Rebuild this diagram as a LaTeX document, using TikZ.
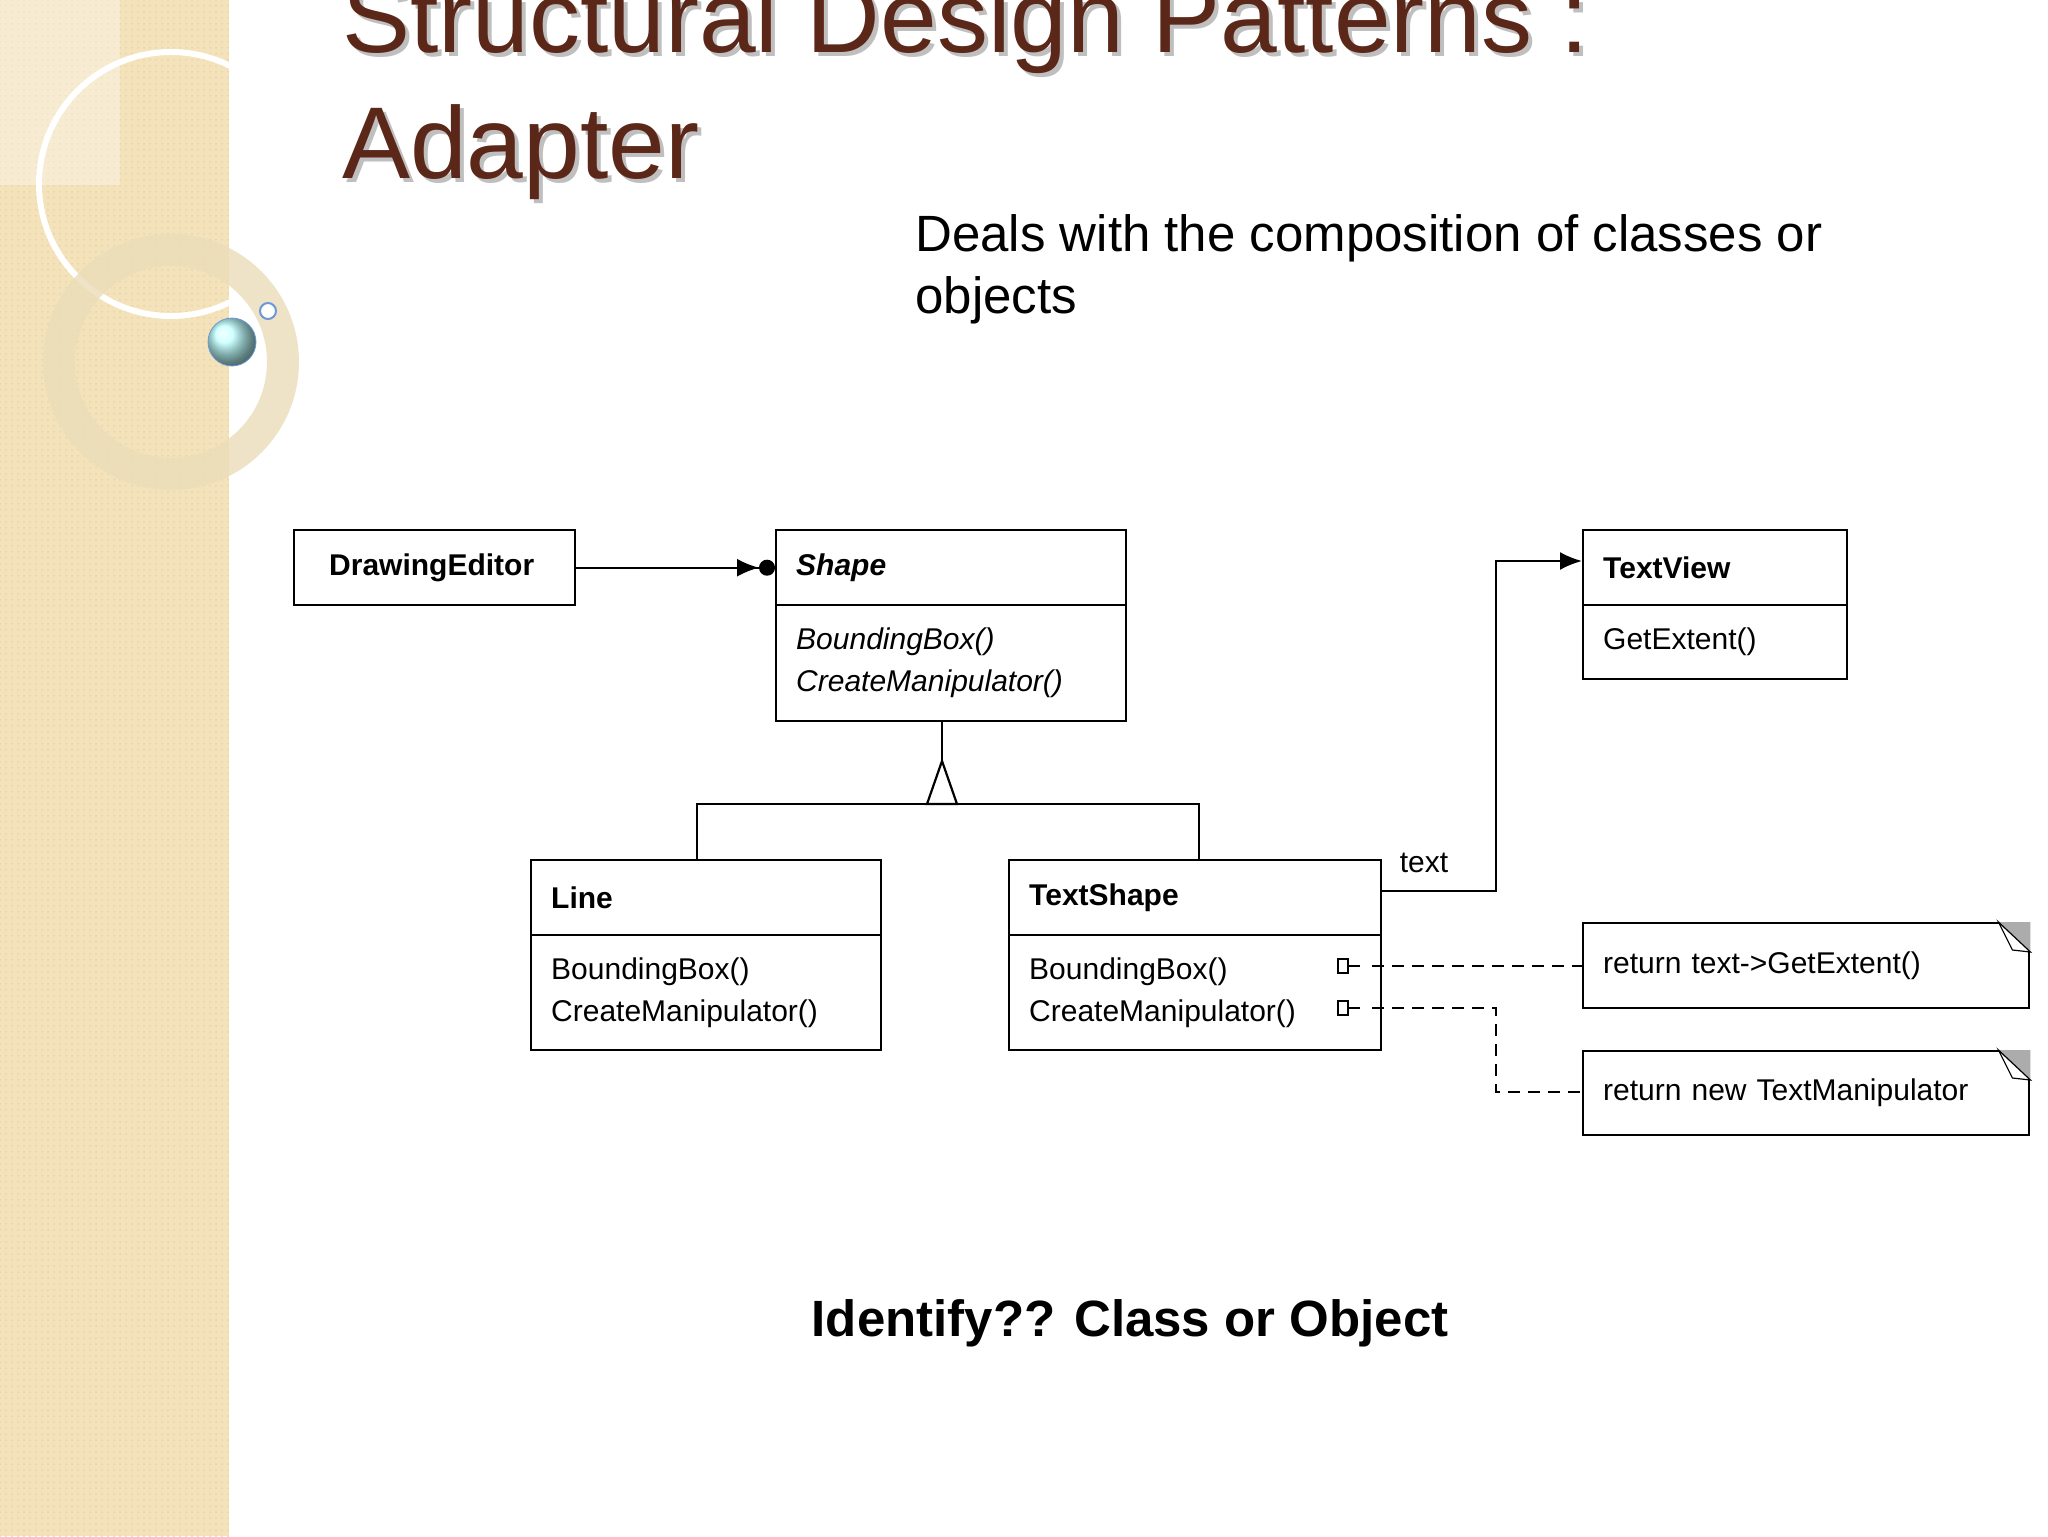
\documentclass[tikz,border=0pt]{standalone}
\usepackage{fontspec}
\setmainfont{Liberation Sans}
\usetikzlibrary{arrows.meta,patterns}
\definecolor{side}{HTML}{F4E3BA}
\definecolor{titlec}{HTML}{5A2718}
\definecolor{ringc}{HTML}{E6D4A8}
\begin{document}
\begin{tikzpicture}[x=0.5pt,y=-0.5pt,
  cls/.style={draw,line width=1.2pt,anchor=north west,inner xsep=10pt,inner ysep=0pt,align=left,font=\fontsize{15}{19}\selectfont},
  ln/.style={line width=1.1pt},
  dsh/.style={line width=1.1pt,dash pattern=on 6pt off 4pt}]
\useasboundingbox (0,0) rectangle (2048,1536);
\fill[white] (0,0) rectangle (2048,1536);
% sidebar
\fill[side] (0,0) rectangle (229,1536);
\fill[pattern=dots,pattern color=ringc] (0,0) rectangle (229,1536);
\fill[white,opacity=0.35] (0,0) rectangle (120,185);
\begin{scope}
\clip (0,0) rectangle (300,700);
\draw[white,line width=3pt] (171,184) circle (132);
\draw[ringc!80!white,line width=16pt,opacity=0.8] (171,362) circle (112);
\end{scope}
\shade[ball color=cyan!25!white,draw=cyan!50!blue!60] (232,342) circle (24);
\draw[cyan!50!blue!60,line width=1pt,fill=white] (268,311) circle (8);
% title
\node[anchor=base west,font=\fontsize{51}{56}\selectfont,text=gray!50] (t1s) at (339,57) {Structural Design Patterns :};
\node[anchor=base west,font=\fontsize{51}{56}\selectfont,text=titlec] (t1) at (335,53) {Structural Design Patterns :};
\node[anchor=base west,font=\fontsize{51}{56}\selectfont,text=gray!50] (t2s) at (339,182) {Adapter};
\node[anchor=base west,font=\fontsize{51}{56}\selectfont,text=titlec] (t2) at (335,178) {Adapter};
\node[anchor=base west,font=\fontsize{25.5}{31}\selectfont,align=left,inner sep=0pt] (sub) at (915,313) {Deals with the composition of classes or\\objects};
% classes
\node[cls,inner xsep=17.5pt,text width=105.5pt,minimum height=37.5pt,font=\fontsize{15}{19}\selectfont\bfseries] (de) at (293,529) {DrawingEditor};
\node[cls,text width=155pt,minimum height=37.5pt,font=\fontsize{15}{19}\selectfont\bfseries\itshape] (shh) at (775,529) {Shape};
\node[cls,text width=155pt,minimum height=58pt,font=\fontsize{15}{21}\selectfont\itshape] (shb) at (775,604) {BoundingBox()\\CreateManipulator()};
\node[cls,text width=112pt,minimum height=37.5pt,font=\fontsize{15}{19}\selectfont\bfseries] (tvh) at (1582,529) {TextView};
\node[cls,text width=112pt,minimum height=37pt] (tvb) at (1582,604) {GetExtent()};
\node[cls,text width=155pt,minimum height=37.5pt,font=\fontsize{15}{19}\selectfont\bfseries] (lnh) at (530,859) {Line};
\node[cls,text width=155pt,minimum height=57.5pt,font=\fontsize{15}{21}\selectfont] (lnb) at (530,934) {BoundingBox()\\CreateManipulator()};
\node[cls,text width=166pt,minimum height=37.5pt,font=\fontsize{15}{19}\selectfont\bfseries] (tsh) at (1008,859) {TextShape};
\node[cls,text width=166pt,minimum height=57.5pt,font=\fontsize{15}{21}\selectfont] (tsb) at (1008,934) {BoundingBox()\\CreateManipulator()};
% notes
\node[cls,text width=203pt,minimum height=42.5pt] (n1) at (1582,922) {return text->GetExtent()};
\node[cls,text width=203pt,minimum height=42pt] (n2) at (1582,1050) {return new TextManipulator};
\foreach \n in {n1,n2}{
  \fill[gray!65] ([xshift=-16pt]\n.north east) -- (\n.north east) -- ([yshift=-15pt]\n.north east) -- cycle;
  \draw[line width=0.6pt,fill=white] ([xshift=-16pt]\n.north east) -- ([xshift=-9pt,yshift=-14pt]\n.north east) -- ([yshift=-15pt]\n.north east) -- cycle;
}
% connectors
\draw[ln,-{Latex[length=11pt,width=9pt]Circle[length=8pt]}] (de.east) -- (shh.west);
\coordinate (apex) at (942,761);
\draw[ln] (shb.south -| apex) -- (apex);
\draw[ln] (apex) -- (927,804) -- (957,804) -- cycle;
\draw[ln] (lnh.north -| 697,0) -- (697,804) -- (1199,804) -- (tsh.north -| 1199,0);
\coordinate (k1) at (1496,891);
\coordinate (k2) at (1496,561);
\draw[ln,-{Latex[length=11pt,width=9pt]}] (tsh.east |- k1) -- (k1) -- (k2) -- (tvh.west |- k2);
\node[anchor=base,font=\fontsize{15}{19}\selectfont] (lbl) at (1424,872) {text};
\coordinate (c1) at (1344,966);
\coordinate (c2) at (1344,1008);
\draw[line width=1pt] (c1) ++(-6,-7) rectangle ++(10,14);
\draw[line width=1pt] (c2) ++(-6,-7) rectangle ++(10,14);
\draw[ln] (1348,966) -- (1360,966);
\draw[ln] (1348,1008) -- (1360,1008);
\draw[dsh] (1372,966) -- (n1.west |- c1);
\coordinate (k3) at (1496,1008);
\coordinate (k4) at (1496,1092);
\draw[dsh] (1372,1008) -- (k3) -- (k4) -- (n2.west |- k4);
% bottom
\node[anchor=base,font=\fontsize{25.5}{30}\selectfont\bfseries] (q) at (1130,1336) {Identify?? Class or Object};
\end{tikzpicture}
\end{document}
